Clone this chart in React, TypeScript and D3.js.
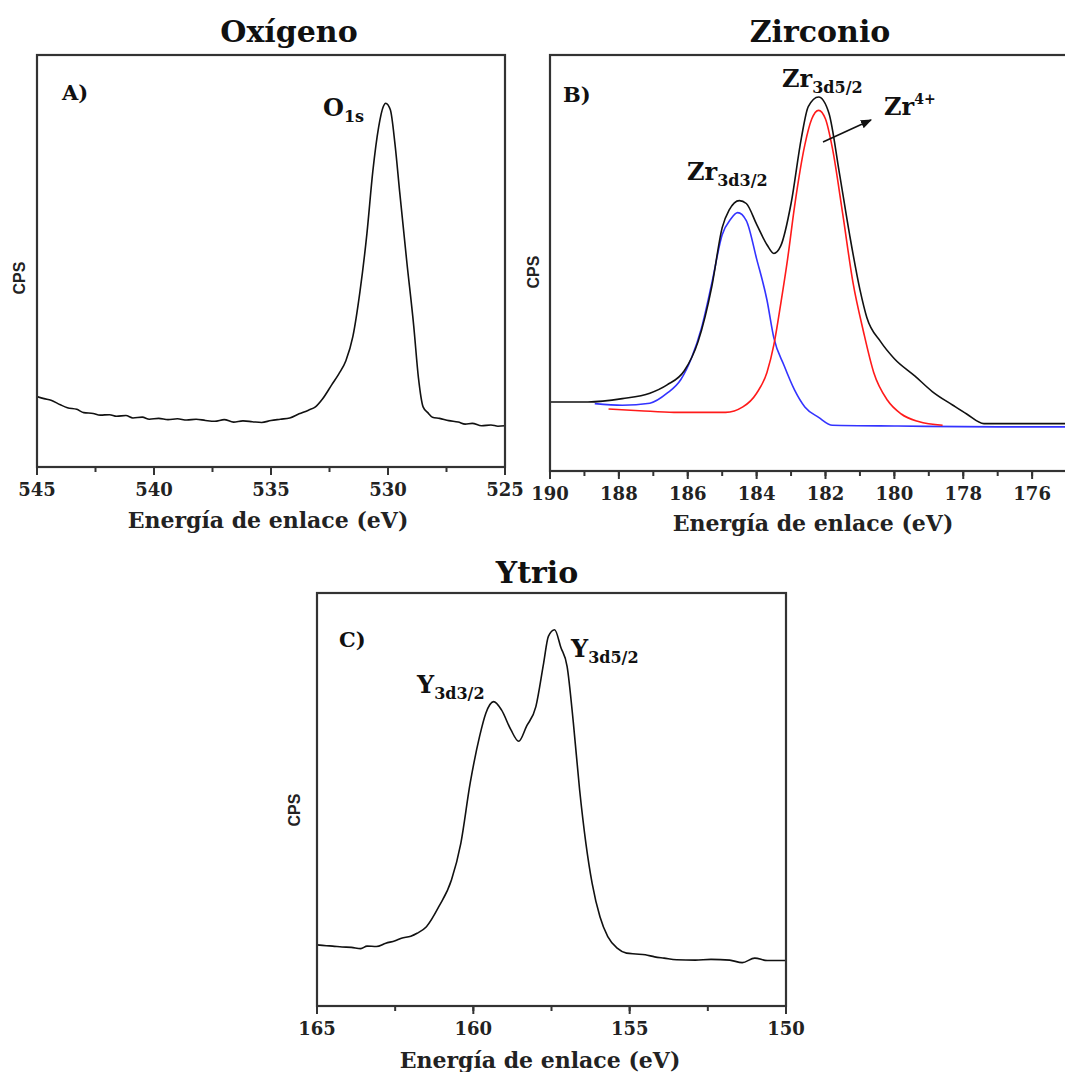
import React from "react";
import * as d3 from "d3";

// ---------- DATA (binding energy eV, relative CPS 0-100 of the frame) ----------
const O1S: [number, number][] = [
  [545, 17.1], [544.7, 16.6], [544.4, 16.2], [544.0, 15.1], [543.7, 14.4], [543.3, 14.0],
  [543.0, 13.2], [542.6, 13.0], [542.3, 12.6], [541.9, 12.7], [541.6, 12.3], [541.2, 12.5],
  [540.9, 11.9], [540.5, 12.1], [540.2, 11.6], [539.8, 11.8], [539.4, 11.5], [539.0, 11.7],
  [538.6, 11.4], [538.2, 11.6], [537.8, 11.3], [537.4, 11.1], [537.0, 11.5], [536.6, 10.9],
  [536.2, 11.2], [535.8, 11.0], [535.4, 10.8], [535.0, 11.3], [534.6, 11.6], [534.2, 11.9],
  [533.8, 12.9], [533.4, 13.8], [533.1, 14.6], [532.8, 16.5], [532.4, 20.0], [532.1, 22.6],
  [531.8, 25.8], [531.5, 31.7], [531.2, 42.5], [530.9, 56.7], [530.65, 71.7], [530.4, 82.5],
  [530.2, 87.5], [530.1, 88.3], [529.9, 86.7], [529.7, 78.3], [529.5, 66.7], [529.2, 50.0],
  [528.9, 34.2], [528.7, 21.7], [528.5, 14.6], [528.3, 13.2], [528.1, 12.1], [527.8, 11.8],
  [527.4, 11.25], [527.0, 10.9], [526.7, 10.4], [526.4, 10.6], [526.0, 10.0], [525.6, 10.2],
  [525.3, 9.9], [525.0, 10.0],
];

const ZR_TOTAL: [number, number][] = [
  [190, 16.6], [188.9, 16.6], [187.9, 17.4], [187.1, 18.7], [186.6, 20.7], [186.1, 24.1],
  [185.7, 31.1], [185.3, 44.4], [185.0, 58.5], [184.8, 62.7], [184.5, 65.0], [184.3, 64.3],
  [184.0, 59.3], [183.7, 54.4], [183.5, 52.3], [183.3, 54.1], [183.0, 64.3], [182.7, 80.1],
  [182.5, 87.6], [182.2, 89.9], [181.9, 86.0], [181.6, 71.8], [181.3, 56.8], [181.0, 43.6],
  [180.8, 36.9], [180.4, 31.1], [180.0, 27.0], [179.4, 22.8], [178.9, 19.1], [178.3, 15.8],
  [177.9, 13.7], [177.4, 11.4], [176.0, 11.4], [174.0, 11.4],
];

const ZR_3D32: [number, number][] = [
  [188.7, 16.2], [187.9, 15.8], [187.1, 16.3], [186.6, 18.7], [186.2, 22.0], [185.9, 27.0],
  [185.6, 34.4], [185.3, 45.2], [185.0, 56.8], [184.75, 60.6], [184.55, 62.1], [184.3, 60.2],
  [184.0, 51.0], [183.7, 41.1], [183.5, 32.0], [183.2, 25.3], [182.9, 19.5], [182.6, 15.4],
  [182.2, 12.9], [181.8, 11.0], [179.9, 10.8], [177.0, 10.6], [174.0, 10.6],
];

const ZR_3D52: [number, number][] = [
  [188.3, 14.9], [187.4, 14.5], [186.4, 14.1], [184.9, 14.1], [184.4, 15.4], [184.0, 18.7],
  [183.7, 23.7], [183.5, 30.3], [183.3, 40.2], [183.1, 51.0], [182.9, 63.5], [182.6, 78.4],
  [182.4, 84.6], [182.2, 86.7], [182.0, 84.6], [181.8, 77.6], [181.5, 61.8], [181.2, 45.2],
  [180.9, 33.6], [180.6, 23.7], [180.2, 17.0], [179.8, 13.7], [179.3, 11.9], [178.6, 11.0],
];

const Y3D: [number, number][] = [
  [165, 14.8], [164.7, 14.6], [164.5, 14.5], [164.2, 14.3], [163.9, 14.2], [163.6, 13.9],
  [163.4, 14.5], [163.1, 14.4], [162.8, 15.2], [162.5, 15.8], [162.3, 16.4], [162.0, 16.9],
  [161.8, 17.6], [161.5, 19.2], [161.1, 24.1], [160.7, 30.5], [160.4, 39.4], [160.1, 54.0],
  [159.8, 65.3], [159.6, 70.9], [159.35, 73.7], [159.1, 71.7], [158.8, 66.9], [158.55, 64.1],
  [158.3, 67.7], [158.0, 72.5], [157.75, 83.1], [157.6, 89.5], [157.4, 91.1], [157.2, 86.8],
  [157.0, 82.2], [156.8, 68.5], [156.6, 52.3], [156.4, 39.4], [156.2, 29.7], [155.95, 21.6],
  [155.7, 16.8], [155.4, 14.0], [155.1, 12.8], [154.8, 12.6], [154.5, 12.4], [154.2, 11.9],
  [153.9, 11.6], [153.5, 11.2], [152.9, 11.1], [152.4, 11.3], [151.8, 11.1], [151.4, 10.5],
  [151.0, 11.6], [150.6, 11.0], [150.0, 11.0],
];

const TICKS_A = [545, 540, 535, 530, 525];
const TICKS_B = [190, 188, 186, 184, 182, 180, 178, 176];
const TICKS_C = [165, 160, 155, 150];

const SERIF = "'DejaVu Serif', serif";
const SANS = "'Liberation Sans', Arial, sans-serif";

type Series = { data: [number, number][]; color: string };

type PanelProps = {
  left: number; right: number; top: number; bottom: number;
  domain: [number, number];
  major: number[]; minorStep: number;
  series: Series[];
  title: string; titleX: number; titleY: number;
  axisTitleX: number; axisTitleY: number;
  cpsX: number; cpsY: number;
  tag: string; tagX: number; tagY: number;
  clipId: string;
};

function Panel(p: PanelProps) {
  const x = d3.scaleLinear().domain(p.domain).range([p.left, p.right]);
  const y = d3.scaleLinear().domain([0, 100]).range([p.bottom, p.top]);
  const line = d3.line<[number, number]>().x(d => x(d[0])).y(d => y(d[1])).curve(d3.curveMonotoneX);
  const lo = Math.min(p.domain[0], p.domain[1]);
  const hi = Math.max(p.domain[0], p.domain[1]);
  const minors: number[] = [];
  for (let v = lo; v <= hi + 1e-9; v += p.minorStep) minors.push(v);
  return (
    <g>
      <defs>
        <clipPath id={p.clipId}>
          <rect x={p.left} y={p.top} width={p.right - p.left} height={p.bottom - p.top} />
        </clipPath>
      </defs>
      <text x={p.titleX} y={p.titleY} textAnchor="middle" fontFamily={SERIF} fontWeight="bold" fontSize={30} fill="#111">{p.title}</text>
      <g clipPath={`url(#${p.clipId})`}>
        {p.series.map((s, i) => (
          <path key={i} d={line(s.data) || ""} fill="none" stroke={s.color} strokeWidth={1.6} strokeLinejoin="round" />
        ))}
      </g>
      <rect x={p.left} y={p.top} width={p.right - p.left} height={p.bottom - p.top} fill="none" stroke="#333" strokeWidth={2.2} />
      {minors.map((v, i) => (
        <line key={"m" + i} x1={x(v)} x2={x(v)} y1={p.bottom} y2={p.bottom + 5} stroke="#333" strokeWidth={2} />
      ))}
      {p.major.map((v, i) => (
        <g key={"M" + i}>
          <line x1={x(v)} x2={x(v)} y1={p.bottom} y2={p.bottom + 8} stroke="#333" strokeWidth={2} />
          <text x={x(v)} y={p.bottom + 29} textAnchor="middle" fontFamily={SERIF} fontWeight="bold" fontSize={18} fill="#222">{v}</text>
        </g>
      ))}
      <text x={p.axisTitleX} y={p.axisTitleY} textAnchor="middle" fontFamily={SERIF} fontWeight="bold" fontSize={22} fill="#222">Energía de enlace (eV)</text>
      <text transform={`translate(${p.cpsX},${p.cpsY}) rotate(-90)`} textAnchor="middle" fontFamily={SANS} fontWeight="bold" fontSize={16} fill="#222">CPS</text>
      <text x={p.tagX} y={p.tagY} fontFamily={SERIF} fontWeight="bold" fontSize={21} fill="#111">{p.tag}</text>
    </g>
  );
}

function Label({ x, y, main, sub, sup }: { x: number; y: number; main: string; sub?: string; sup?: string }) {
  return (
    <text x={x} y={y} fontFamily={SERIF} fontWeight="bold" fontSize={24} fill="#111">
      {main}
      {sub && <tspan fontSize={16} dy={6}>{sub}</tspan>}
      {sup && <tspan fontSize={14} dy={-11}>{sup}</tspan>}
    </text>
  );
}

export default function App() {
  return (
    <svg width={1065} height={1072} style={{ position: "absolute", left: 0, top: 0, background: "#fff" }}>
      <rect x={0} y={0} width={1065} height={1072} fill="#fff" />
      <Panel left={37} right={505} top={55} bottom={467} domain={[545, 525]} major={TICKS_A} minorStep={2.5}
        series={[{ data: O1S, color: "#111" }]}
        title="Oxígeno" titleX={289} titleY={42}
        axisTitleX={268} axisTitleY={528} cpsX={25} cpsY={278}
        tag="A)" tagX={62} tagY={100} clipId="clipA" />
      <Panel left={550} right={1101} top={55} bottom={471} domain={[190, 174]} major={TICKS_B} minorStep={1}
        series={[{ data: ZR_3D32, color: "#3333ff" }, { data: ZR_3D52, color: "#ff1a1a" }, { data: ZR_TOTAL, color: "#111" }]}
        title="Zirconio" titleX={820} titleY={42}
        axisTitleX={813} axisTitleY={531} cpsX={539} cpsY={272}
        tag="B)" tagX={563} tagY={102} clipId="clipB" />
      <Panel left={317} right={786} top={593} bottom={1006} domain={[165, 150]} major={TICKS_C} minorStep={2.5}
        series={[{ data: Y3D, color: "#111" }]}
        title="Ytrio" titleX={537} titleY={583}
        axisTitleX={540} axisTitleY={1068} cpsX={300} cpsY={810}
        tag="C)" tagX={339} tagY={647} clipId="clipC" />

      <Label x={323} y={116} main="O" sub="1s" />
      <Label x={782} y={87} main="Zr" sub="3d5/2" />
      <Label x={884} y={115} main="Zr" sup="4+" />
      <Label x={687} y={180} main="Zr" sub="3d3/2" />
      <Label x={571} y={657} main="Y" sub="3d5/2" />
      <Label x={417} y={693} main="Y" sub="3d3/2" />

      <defs>
        <marker id="arr" viewBox="0 0 10 10" refX={9} refY={5} markerWidth={7} markerHeight={7} orient="auto">
          <path d="M0,1 L10,5 L0,9 z" fill="#111" />
        </marker>
      </defs>
      <line x1={823} y1={142} x2={871} y2={120} stroke="#111" strokeWidth={1.6} markerEnd="url(#arr)" />
    </svg>
  );
}
